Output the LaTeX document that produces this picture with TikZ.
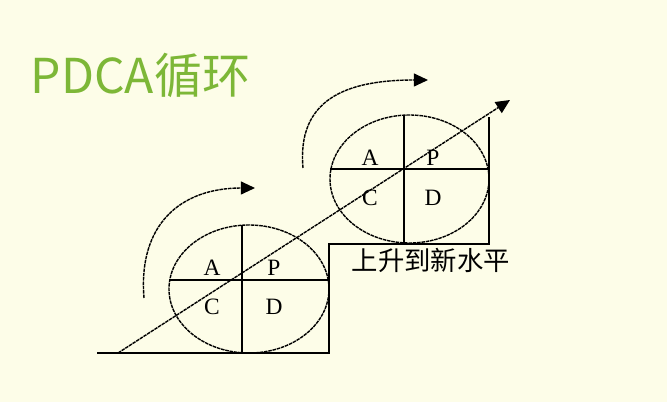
\documentclass[tikz,border=0pt]{standalone}
\usepackage{fontspec}
\setmainfont{Liberation Serif}
\newfontfamily\cjk{Noto Sans CJK SC}
\usetikzlibrary{arrows.meta}
\definecolor{paper}{RGB}{253,253,232}
\definecolor{titlegreen}{RGB}{125,183,55}

\begin{document}
\begin{tikzpicture}[x=0.03cm,y=-0.03cm]
    \tikzstyle{every path}=[line width=1.2pt]
    \tikzstyle{ring}=[draw,dash pattern=on 3pt off 0.7pt]
    \tikzstyle{turn}=[draw,dash pattern=on 3pt off 0.7pt,-{Triangle[length=12pt,width=11pt]}]
    \tikzstyle{quarter}=[font=\fontsize{20}{20}\selectfont,inner sep=0pt]

    \fill[paper] (0,0) rectangle (667,402);
    \useasboundingbox (0,0) rectangle (667,402);

    \node[anchor=west,inner sep=0pt,text=titlegreen,
          font=\cjk\fontsize{41}{41}\selectfont] (title) at (30,75) {PDCA循环};

    % the staircase
    \draw (97,353) -- (329,353) -- (329,244) -- (489,244) -- (489,117);

    % lower cycle
    \draw[ring] (249,289) ellipse [x radius=2.4cm,y radius=1.92cm];
    \draw (169,280) -- (329,280);
    \draw (242,225) -- (242,353);
    \node[quarter] (lowA) at (212,268) {A};
    \node[quarter] (lowP) at (274,268) {P};
    \node[quarter] (lowC) at (212,307) {C};
    \node[quarter] (lowD) at (274,307) {D};

    % upper cycle
    \draw[ring] (409.5,179) ellipse [x radius=2.385cm,y radius=1.92cm];
    \draw (330,169) -- (489,169);
    \draw (404,115) -- (404,243);
    \node[quarter] (upA) at (370,158) {A};
    \node[quarter] (upP) at (433,158) {P};
    \node[quarter] (upC) at (370,198) {C};
    \node[quarter] (upD) at (433,198) {D};

    \node[anchor=west,inner sep=0pt,font=\cjk\fontsize{22.5}{22.5}\selectfont]
        (level) at (351,260) {上升到新水平};

    % rising line
    \coordinate (rise0) at (118,353);
    \coordinate (rise1) at (510,100);
    \draw[turn] (rise0) -- (rise1);

    % turning arrows
    \draw[turn] (144,298) .. controls (138,225) and (180,188) .. (255,188);
    \draw[turn] (303,168) .. controls (297,100) and (345,80) .. (428,80);
\end{tikzpicture}
\end{document}
